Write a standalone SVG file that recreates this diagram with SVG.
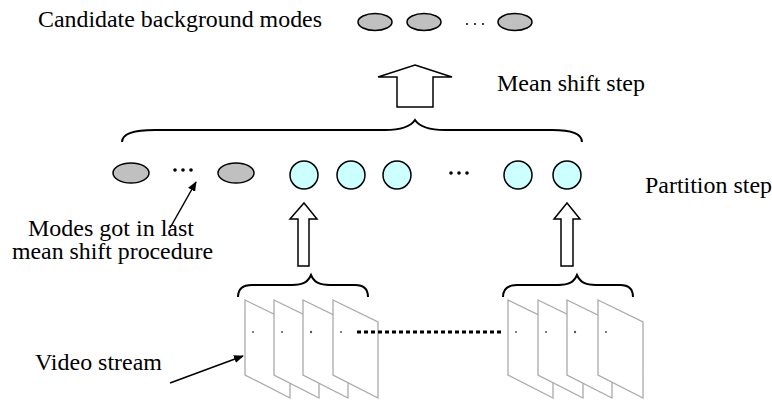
<svg xmlns="http://www.w3.org/2000/svg" width="772" height="401" viewBox="0 0 772 401">
<defs>
<marker id="ah" markerWidth="10" markerHeight="8" refX="9" refY="4" orient="auto" markerUnits="userSpaceOnUse">
<path d="M0,0 L10,4 L0,8 Z" fill="#000"/>
</marker>
<style>
.lbl{font-family:'Liberation Serif','DejaVu Serif','Times New Roman',Times,serif;font-size:23.5px;fill:#000}
.gray{fill:#c0c0c0;stroke:#000;stroke-width:1.5}
.cyan{fill:#ccffff;stroke:#000;stroke-width:1.5}
.hollow{fill:#fff;stroke:#000;stroke-width:1.5;stroke-linejoin:miter}
.brace{fill:none;stroke:#000;stroke-width:2}
.frame{fill:#fff;stroke:#aaa;stroke-width:1.3}
.fdot{fill:#555}
.dot{fill:#000}
</style>
</defs>
<rect width="772" height="401" fill="#fff"/>

<g id="labels">
<text class="lbl" x="38" y="27" textLength="284" lengthAdjust="spacingAndGlyphs">Candidate background modes</text>
<text class="lbl" x="497" y="91" textLength="148" lengthAdjust="spacingAndGlyphs">Mean shift step</text>
<text class="lbl" x="645" y="193" textLength="127" lengthAdjust="spacingAndGlyphs">Partition step</text>
<text class="lbl" x="28" y="236" textLength="166" lengthAdjust="spacingAndGlyphs">Modes got in last</text>
<text class="lbl" x="12" y="259" textLength="201" lengthAdjust="spacingAndGlyphs">mean shift procedure</text>
<text class="lbl" x="35" y="370" textLength="127" lengthAdjust="spacingAndGlyphs">Video stream</text>
</g>

<g id="top-modes">
<ellipse class="gray" cx="375" cy="22" rx="17" ry="8.5"/>
<ellipse class="gray" cx="424" cy="22" rx="17" ry="8.5"/>
<circle class="dot" cx="467" cy="24" r="1"/>
<circle class="dot" cx="475" cy="24" r="1"/>
<circle class="dot" cx="483" cy="24" r="1"/>
<ellipse class="gray" cx="515" cy="22" rx="17" ry="8.5"/>
</g>

<g id="last-modes">
<ellipse class="gray" cx="131" cy="173" rx="18" ry="10"/>
<circle class="dot" cx="175" cy="170" r="1.8"/>
<circle class="dot" cx="183" cy="170" r="1.8"/>
<circle class="dot" cx="191" cy="170" r="1.8"/>
<ellipse class="gray" cx="236" cy="173" rx="18" ry="10"/>
</g>

<g id="new-modes">
<circle class="cyan" cx="304" cy="175" r="14"/>
<circle class="cyan" cx="351" cy="175" r="14"/>
<circle class="cyan" cx="397" cy="175" r="14"/>
<circle class="dot" cx="451" cy="173" r="1.8"/>
<circle class="dot" cx="459" cy="173" r="1.8"/>
<circle class="dot" cx="467" cy="173" r="1.8"/>
<circle class="cyan" cx="518" cy="175" r="14"/>
<circle class="cyan" cx="567" cy="175" r="14"/>
</g>

<g id="frames-left">
<path class="frame" d="M245,300 L290,322 L290,398 L245,375 Z"/>
<circle class="fdot" cx="253" cy="332" r="1"/>
<path class="frame" d="M274,300 L319,322 L319,398 L274,375 Z"/>
<circle class="fdot" cx="282" cy="332" r="1"/>
<path class="frame" d="M303,300 L348,322 L348,398 L303,375 Z"/>
<circle class="fdot" cx="311" cy="332" r="1.2"/>
<path class="frame" d="M333,300 L378,322 L378,398 L333,375 Z"/>
<circle class="fdot" cx="341" cy="332" r="1"/>
</g>

<g id="frames-right">
<path class="frame" d="M508,300 L553,322 L553,398 L508,375 Z"/>
<circle class="fdot" cx="516" cy="332" r="1"/>
<path class="frame" d="M538,300 L583,322 L583,398 L538,375 Z"/>
<circle class="fdot" cx="546" cy="332" r="1"/>
<path class="frame" d="M567,300 L612,322 L612,398 L567,375 Z"/>
<circle class="fdot" cx="575" cy="332" r="1.2"/>
<path class="frame" d="M598,300 L643,322 L643,398 L598,375 Z"/>
<circle class="fdot" cx="606" cy="332" r="1"/>
</g>

<g id="connectors">
<polygon class="hollow" points="415,65 452,77 433,77 433,107 397,107 397,77 378,77"/>
<polygon class="hollow" points="304,203 317,219 309,219 309,266 298,266 298,219 290,219"/>
<polygon class="hollow" points="567,203 580,219 573,219 573,266 561,266 561,219 554,219"/>
<path class="brace" d="M122,142 C122,134 132,130 155,130 L385,130 C403,130 411,126 415,120 C419,126 427,130 445,130 L552,130 C573,130 582,134 582,142"/>
<path class="brace" d="M238,297 C238,290 242,285 252,285 L292,285 C303,285 308,282 311,275 C314,282 319,285 330,285 L355,285 C365,285 368,290 368,297"/>
<path class="brace" d="M503,297 C503,290 507,285 517,285 L558,285 C569,285 574,282 577,275 C580,282 585,285 596,285 L620,285 C630,285 633,290 633,297"/>
<line x1="357" y1="332" x2="501" y2="332" stroke="#000" stroke-width="3" stroke-dasharray="4,3"/>
<line x1="170" y1="228" x2="196" y2="182" stroke="#000" stroke-width="1.5" marker-end="url(#ah)"/>
<line x1="170" y1="383" x2="243" y2="356" stroke="#000" stroke-width="1.5" marker-end="url(#ah)"/>
</g>
</svg>
